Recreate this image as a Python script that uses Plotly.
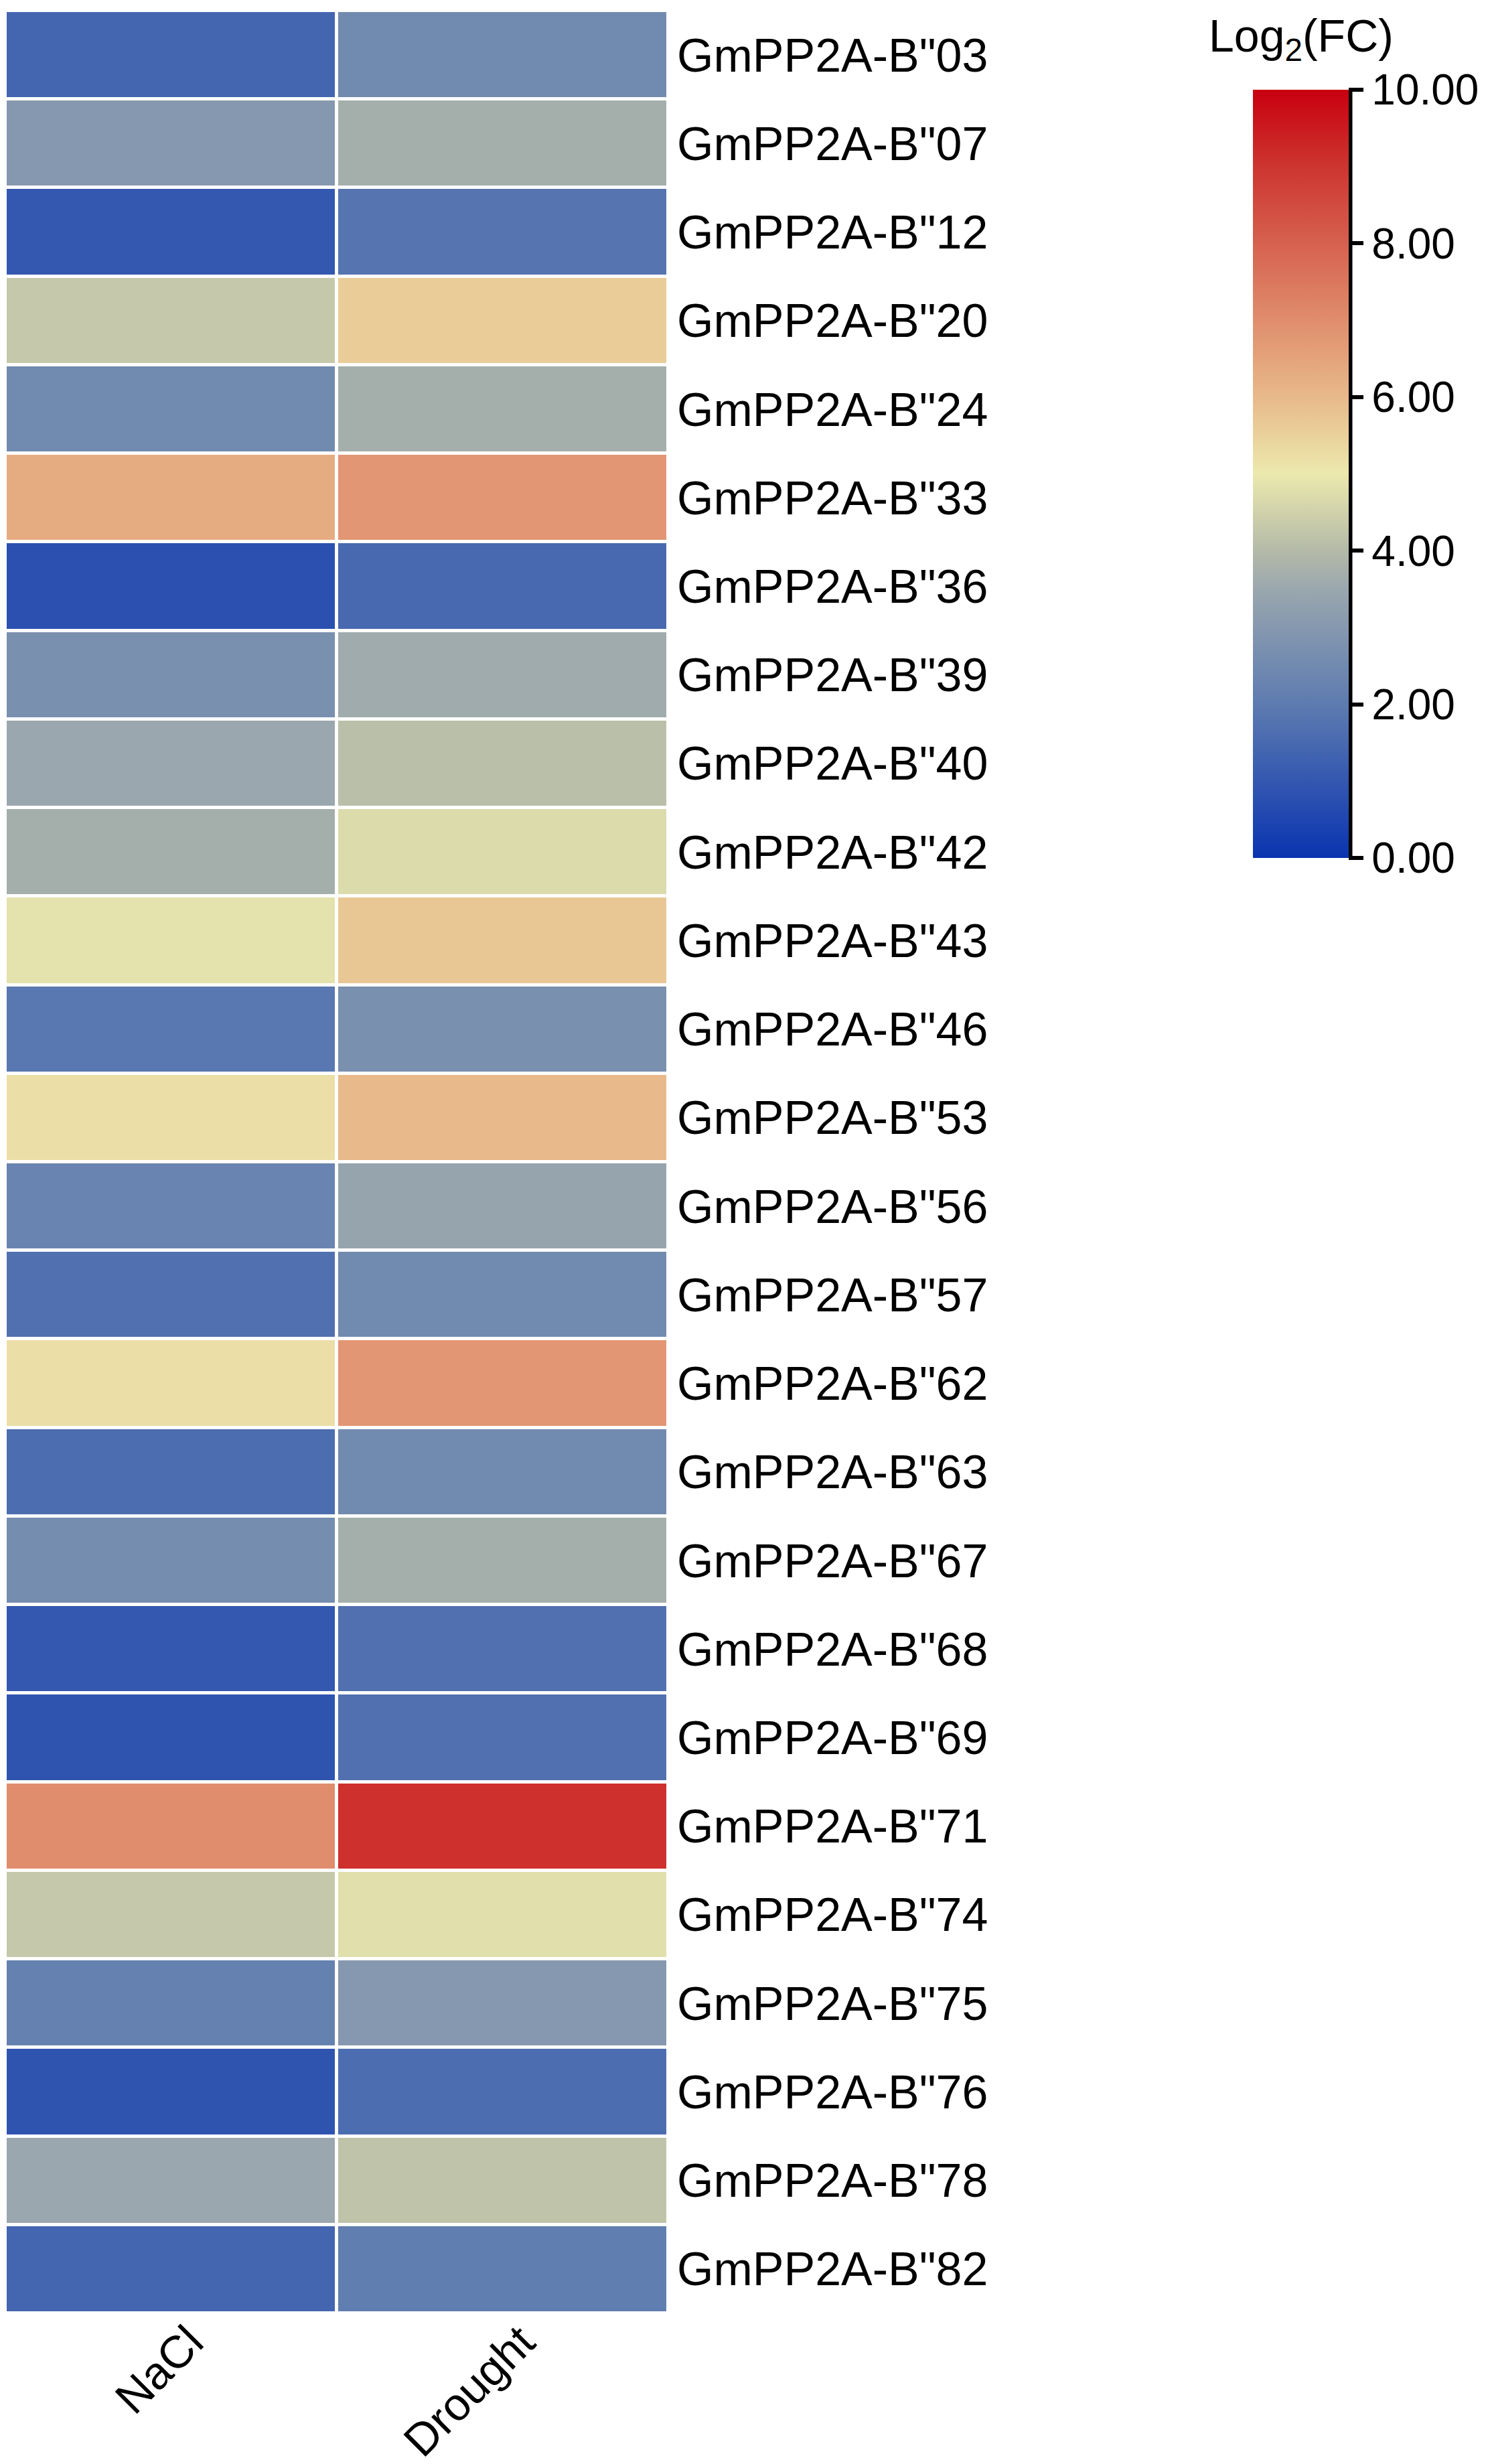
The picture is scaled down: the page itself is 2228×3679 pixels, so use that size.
import plotly.graph_objects as go

# genes (top to bottom) and log2 fold change per treatment
genes = ['GmPP2A-B"03', 'GmPP2A-B"07', 'GmPP2A-B"12', 'GmPP2A-B"20', 'GmPP2A-B"24',
         'GmPP2A-B"33', 'GmPP2A-B"36', 'GmPP2A-B"39', 'GmPP2A-B"40', 'GmPP2A-B"42',
         'GmPP2A-B"43', 'GmPP2A-B"46', 'GmPP2A-B"53', 'GmPP2A-B"56', 'GmPP2A-B"57',
         'GmPP2A-B"62', 'GmPP2A-B"63', 'GmPP2A-B"67', 'GmPP2A-B"68', 'GmPP2A-B"69',
         'GmPP2A-B"71', 'GmPP2A-B"74', 'GmPP2A-B"75', 'GmPP2A-B"76', 'GmPP2A-B"78',
         'GmPP2A-B"82']
treatments = ["NaCl", "Drought"]

nacl = [1.4, 3.0, 1.0, 4.3, 2.5, 6.3, 0.8, 2.7, 3.5, 3.7,
        4.85, 1.9, 5.2, 2.3, 1.7, 5.2, 1.6, 2.6, 1.0, 0.9,
        7.0, 4.3, 2.2, 0.9, 3.5, 1.4]
drought = [2.5, 3.7, 1.8, 5.6, 3.7, 6.8, 1.5, 3.6, 4.1, 4.7,
           5.7, 2.7, 6.0, 3.4, 2.5, 6.8, 2.5, 3.7, 1.7, 1.7,
           9.1, 4.8, 3.0, 1.6, 4.2, 2.1]

cbar_ticks = [0, 2, 4, 6, 8, 10]

W, H = 2228, 3679
TOP, BOT = 8, 233
plot_h = H - TOP - BOT

colorscale = [
    [0.0, "#0a34b0"],
    [0.2, "#5d7bb0"],
    [0.35, "#9aa7ae"],
    [0.4, "#b4baa8"],
    [0.5, "#ece9ae"],
    [0.6, "#e8b98a"],
    [0.7, "#e08d6d"],
    [0.8, "#d6614f"],
    [0.9, "#cd3530"],
    [1.0, "#c8000f"],
]

z = [[a, b] for a, b in zip(nacl, drought)]

font = "Arial, Liberation Sans, sans-serif"

cb_top = 126
cb_len = 1147
cb_x = 1863
cb_w = 143


def py(p):
    # pixel from top of figure -> paper y
    return (H - BOT - p) / plot_h


fig = go.Figure(
    go.Heatmap(
        z=z, x=treatments, y=genes,
        zmin=0, zmax=10,
        colorscale=colorscale,
        xgap=5, ygap=5,
        colorbar=dict(
            x=cb_x / W, xanchor="left", xpad=0, ypad=0,
            y=py(cb_top), yanchor="top",
            thickness=cb_w, thicknessmode="pixels",
            len=cb_len, lenmode="pixels",
            outlinewidth=0,
            tickvals=cbar_ticks,
            tickformat=".2f",
            ticks="outside", ticklen=22, tickwidth=6, tickcolor="black",
            tickfont=dict(family=font, size=64, color="black"),
        ),
    )
)

# black axis line along the colorbar
fig.add_shape(
    type="line", xref="paper", yref="paper",
    x0=(cb_x + cb_w + 2) / W, x1=(cb_x + cb_w + 2) / W,
    y0=py(cb_top), y1=py(cb_top + cb_len),
    line=dict(color="black", width=7),
)

fig.add_annotation(
    text="Log<sub>2</sub>(FC)", xref="paper", yref="paper",
    x=(cb_x + cb_w / 2) / W, y=py(50),
    xanchor="center", yanchor="middle", showarrow=False,
    font=dict(family=font, size=68, color="black"),
)

fig.update_layout(
    width=W, height=H,
    margin=dict(l=0, r=0, t=TOP, b=BOT, autoexpand=False),
    plot_bgcolor="white", paper_bgcolor="white",
    xaxis=dict(
        domain=[0, 990 / W], automargin=False,
        tickangle=-45, showgrid=False, zeroline=False, showline=False,
        ticks="", ticklabelshift=28, ticklabelstandoff=-12,
        tickfont=dict(family=font, size=68, color="black"),
    ),
    yaxis=dict(
        side="right", autorange="reversed", automargin=False,
        showgrid=False, zeroline=False, showline=False, ticks="",
        ticklabelstandoff=12,
        tickfont=dict(family=font, size=70, color="black"),
    ),
)

fig.write_html("out.html")
